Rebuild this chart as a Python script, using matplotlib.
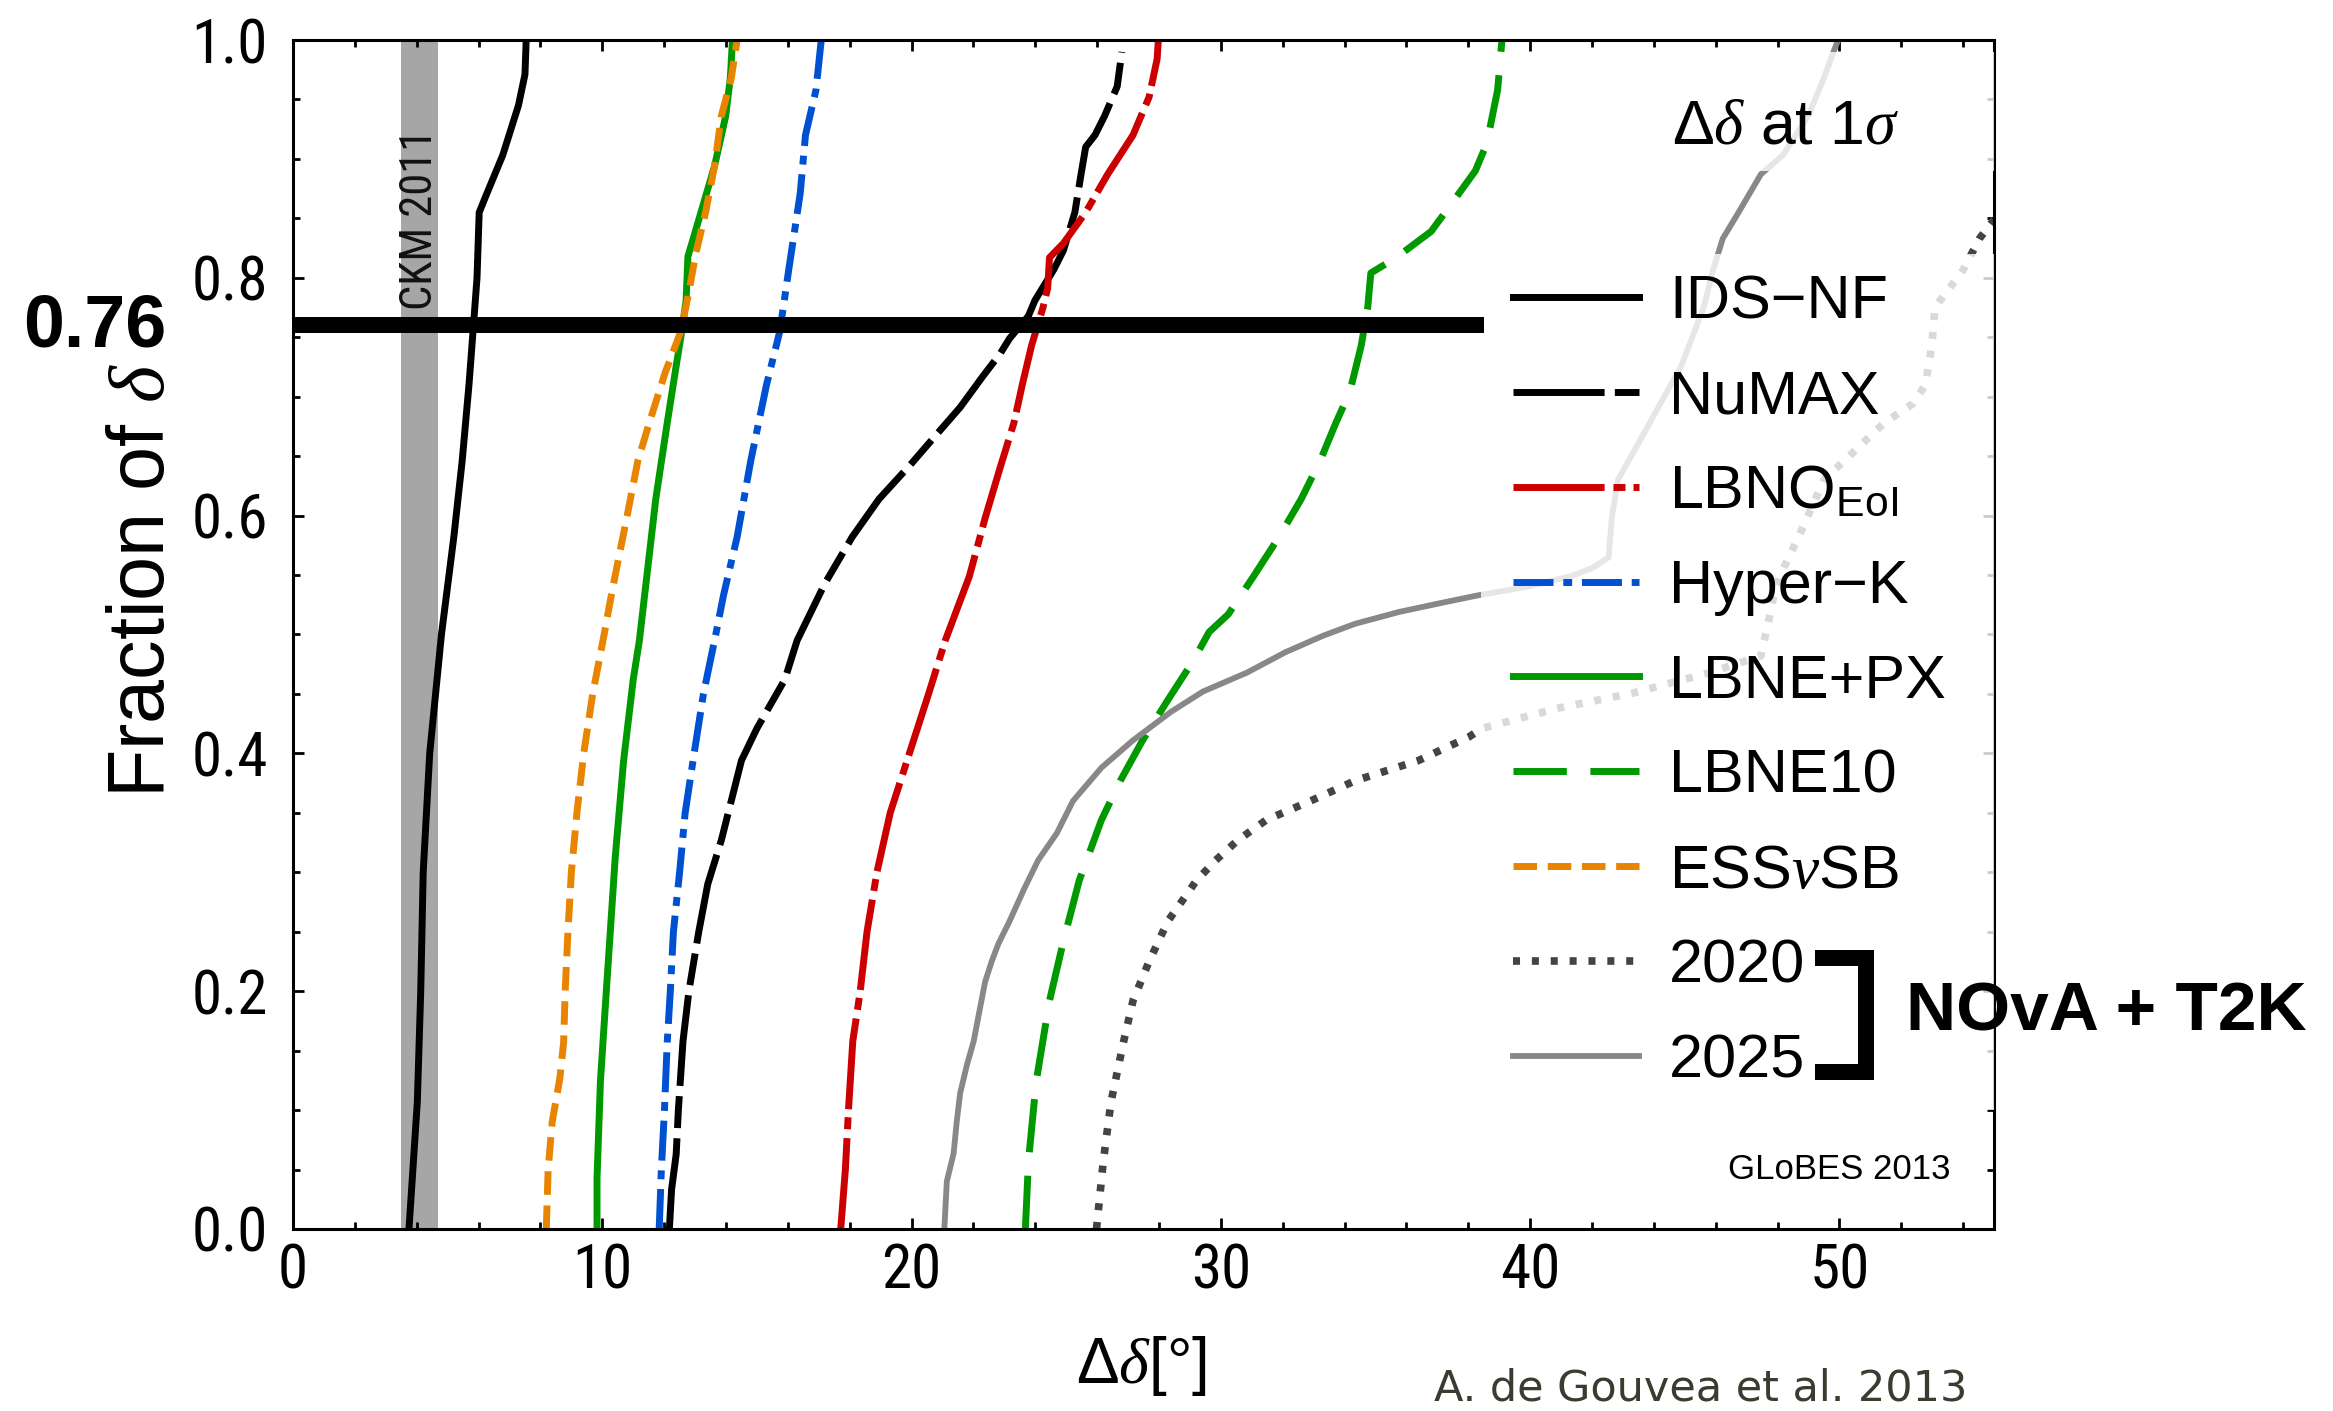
import matplotlib
matplotlib.use("Agg")
import matplotlib.pyplot as plt
from matplotlib import font_manager as fm
from matplotlib.font_manager import FontProperties
from matplotlib.patches import Rectangle
from matplotlib.ticker import MultipleLocator, FormatStrFormatter

# ---------------- data ----------------
ids_x = [3.75, 4.02, 4.13, 4.21, 4.42, 4.80, 5.20, 5.47, 5.69, 5.83, 5.95, 6.02, 6.27, 6.78, 7.29, 7.50, 7.54]
ids_y = [0.0, 0.107, 0.2, 0.3, 0.4, 0.5, 0.582, 0.646, 0.71, 0.758, 0.80, 0.855, 0.871, 0.903, 0.945, 0.971, 1.0]

numax_x = [12.17, 12.24, 12.39, 12.46, 12.61, 12.80, 13.12, 13.41, 13.85, 14.50, 15.00, 15.90, 16.30, 17.20,
           18.08, 18.95, 19.97, 20.70, 21.57, 22.30, 22.86, 23.17, 23.78, 23.99, 24.60, 24.91, 25.28, 25.48,
           25.63, 25.93, 26.24, 26.65, 26.80]
numax_y = [0.0, 0.033, 0.063, 0.1, 0.158, 0.2, 0.25, 0.29, 0.327, 0.394, 0.421, 0.462, 0.495, 0.543,
           0.582, 0.614, 0.643, 0.665, 0.691, 0.717, 0.736, 0.749, 0.768, 0.781, 0.807, 0.823, 0.855, 0.887,
           0.91, 0.92, 0.936, 0.961, 0.99]

lbno_x = [17.71, 17.86, 17.96, 18.10, 18.34, 18.56, 18.88, 19.31, 19.93, 20.55, 21.09, 21.87, 22.38, 22.86,
          23.31, 23.58, 23.88, 24.25, 24.40, 24.46, 24.91, 25.63, 26.34, 27.16, 27.68, 27.94, 27.98]
lbno_y = [0.0, 0.05, 0.1, 0.158, 0.2, 0.25, 0.3, 0.35, 0.4, 0.45, 0.495, 0.549, 0.598, 0.64,
          0.678, 0.71, 0.743, 0.775, 0.791, 0.817, 0.829, 0.855, 0.887, 0.92, 0.952, 0.984, 1.0]

hk_x = [11.84, 11.91, 12.01, 12.10, 12.20, 12.30, 12.50, 12.68, 12.97, 13.27, 13.67, 13.92, 14.36, 14.80,
        15.31, 15.74, 16.03, 16.40, 16.57, 16.91, 17.08]
hk_y = [0.0, 0.05, 0.1, 0.157, 0.2, 0.25, 0.3, 0.35, 0.4, 0.45, 0.5, 0.533, 0.582, 0.646,
        0.71, 0.755, 0.807, 0.871, 0.92, 0.958, 1.0]

lbnepx_x = [9.83, 9.83, 9.94, 10.10, 10.42, 10.69, 11.00, 11.20, 11.44, 11.73, 12.10, 12.39, 12.57, 12.71,
            12.77, 13.19, 13.63, 13.99, 14.14, 14.21]
lbnepx_y = [0.0, 0.043, 0.124, 0.188, 0.313, 0.394, 0.462, 0.495, 0.549, 0.614, 0.678, 0.726, 0.755, 0.781,
            0.818, 0.855, 0.894, 0.936, 0.968, 1.0]

lbne10_x = [23.68, 23.78, 24.03, 24.46, 24.91, 25.42, 26.14, 26.75, 27.47, 28.29, 29.11, 29.62, 30.24, 31.06,
            31.88, 32.60, 33.21, 33.72, 34.17, 34.54, 34.75, 34.85, 35.67, 36.80, 37.45, 38.23, 38.60, 38.95, 39.09]
lbne10_y = [0.0, 0.057, 0.124, 0.192, 0.242, 0.293, 0.344, 0.377, 0.411, 0.445, 0.478, 0.502, 0.517, 0.549,
            0.582, 0.614, 0.646, 0.678, 0.704, 0.743, 0.775, 0.804, 0.817, 0.839, 0.862, 0.89, 0.913, 0.958, 1.0]

ess_x = [8.19, 8.25, 8.38, 8.63, 8.75, 8.80, 8.89, 9.00, 9.18, 9.40, 9.69, 10.06, 10.32, 10.79, 11.15, 11.52,
         12.03, 12.54, 12.80, 13.02, 13.34, 13.63, 13.85, 14.17, 14.36]
ess_y = [0.0, 0.05, 0.09, 0.127, 0.157, 0.2, 0.25, 0.3, 0.35, 0.4, 0.45, 0.5, 0.537, 0.598, 0.646, 0.678,
         0.72, 0.755, 0.788, 0.82, 0.855, 0.894, 0.936, 0.968, 1.0]

nova2020_x = [25.98, 26.20, 26.45, 26.86, 27.16, 27.68, 28.29, 29.21, 29.83, 30.55, 31.47, 32.90, 34.34, 36.39,
              38.03, 38.44, 40.90, 43.36, 45.82, 47.46, 47.70, 47.86, 48.07, 48.68, 49.50, 51.45, 52.37, 52.78,
              52.99, 53.09, 54.01, 54.53, 55.00]
nova2020_y = [0.0, 0.057, 0.107, 0.158, 0.192, 0.225, 0.259, 0.293, 0.31, 0.327, 0.344, 0.36, 0.377, 0.394,
              0.414, 0.421, 0.438, 0.451, 0.468, 0.482, 0.51, 0.53, 0.549, 0.582, 0.63, 0.678, 0.694, 0.71,
              0.743, 0.775, 0.807, 0.833, 0.849]

nova2025_x = [21.06, 21.14, 21.36, 21.46, 21.57, 21.79, 22.01, 22.23, 22.38, 22.59, 22.81, 23.17, 23.64, 24.09,
              24.70, 25.22, 26.14, 27.16, 28.39, 29.42, 30.85, 32.08, 33.31, 34.34, 35.77, 37.21, 38.33, 39.87,
              41.31, 42.02, 42.54, 42.64, 42.84, 43.87, 44.89, 45.61, 45.92, 46.23, 46.74, 47.46, 48.17, 48.99,
              49.50, 49.81, 49.96]
nova2025_y = [0.0, 0.04, 0.0635, 0.09, 0.114, 0.138, 0.158, 0.188, 0.208, 0.225, 0.24, 0.259, 0.286, 0.31,
              0.333, 0.36, 0.388, 0.411, 0.435, 0.452, 0.468, 0.485, 0.499, 0.509, 0.519, 0.527, 0.533, 0.54,
              0.549, 0.556, 0.565, 0.598, 0.63, 0.678, 0.726, 0.775, 0.807, 0.833, 0.855, 0.887, 0.903, 0.936,
              0.968, 0.99, 1.0]

ckm_band = [3.5, 4.7]
frac_mark = 0.76
frac_bar_end = 38.5

x_ticks = [0, 10, 20, 30, 40, 50]
y_ticks = [0.0, 0.2, 0.4, 0.6, 0.8, 1.0]

# ---------------- fonts ----------------
plt.rcParams["font.family"] = ["Liberation Sans", "DejaVu Sans"]
plt.rcParams["mathtext.fontset"] = "custom"
plt.rcParams["mathtext.rm"] = "Liberation Serif"
plt.rcParams["mathtext.it"] = "Liberation Serif:italic"
plt.rcParams["mathtext.sf"] = "Liberation Sans"
plt.rcParams["mathtext.bf"] = "Liberation Serif:bold"


def find_narrow():
    prefs = ["Liberation Sans Narrow", "Roboto Condensed", "Open Sans Condensed", "Noto Sans Condensed",
             "Roboto", "Open Sans", "Noto Sans", "DejaVu Sans"]
    cands = []
    for f in fm.fontManager.ttflist:
        if f.style != "normal":
            continue
        w = f.weight if isinstance(f.weight, int) else (400 if f.weight in ("normal", "regular", "book") else 0)
        if w != 400:
            continue
        st = str(f.stretch)
        if "Narrow" in f.name or "Condensed" in f.name or st in ("condensed", "semi-condensed", "75", "87"):
            if "Semi" in f.name or "Extra" in f.name:
                continue
            rank = prefs.index(f.name) if f.name in prefs else len(prefs)
            cands.append((rank, f.fname))
    if cands:
        cands.sort()
        return cands[0][1]
    return None


narrow_file = find_narrow()


def tick_fp(size):
    if narrow_file:
        return FontProperties(fname=narrow_file, size=size)
    return FontProperties(family="Liberation Sans", size=size * 0.9)


fig = plt.figure(figsize=(23.33, 14.11), dpi=100)
ax = fig.add_axes([0.12559, 0.12899, 0.72911, 0.84266])

LW = 5.0
k = 3.2 / LW  # keep absolute dash lengths
ax.axvspan(ckm_band[0], ckm_band[1], color="#a6a6a6", lw=0, zorder=1)

ax.plot(ids_x, ids_y, color="black", lw=LW, ls="-", label="IDS\u2212NF", zorder=2)
ax.plot(numax_x, numax_y, color="black", lw=LW, ls=(0, (20.5 * k, 2.3 * k, 7.2 * k, 2.3 * k)),
        label="NuMAX", zorder=2)
ax.plot(lbno_x, lbno_y, color="#cc0000", lw=LW, ls=(0, (20.5 * k, 2.0 * k, 2.7 * k, 1.8 * k)),
        label=r"LBNO$_{\mathsf{EoI}}$", zorder=2)
ax.plot(hk_x, hk_y, color="#0050d2", lw=LW, ls=(0, (9.0 * k, 2.2 * k, 2.0 * k, 2.2 * k)),
        label="Hyper\u2212K", zorder=2)
ax.plot(lbnepx_x, lbnepx_y, color="#009900", lw=LW, ls="-", label="LBNE+PX", zorder=2)
ax.plot(lbne10_x, lbne10_y, color="#009900", lw=LW, ls=(0, (12.0 * k, 5.3 * k)), label="LBNE10", zorder=2)
ax.plot(ess_x, ess_y, color="#e88400", lw=LW, ls=(0, (5.3 * k, 2.4 * k)), label=r"ESS$\nu$SB", zorder=2)
ax.plot(nova2020_x, nova2020_y, color="#444444", lw=5.5, ls=(0, (0.92, 1.55)), label="2020", zorder=2)
ax.plot(nova2025_x, nova2025_y, color="#888888", lw=4.2, ls="-", label="2025", zorder=2)

# translucent white panels behind legend/title
ax.add_patch(Rectangle((38.4, 0.10), 16.6, 0.72, facecolor="white", edgecolor="none", alpha=0.8, zorder=3))
ax.add_patch(Rectangle((43.5, 0.89), 11.5, 0.10, facecolor="white", edgecolor="none", alpha=0.8, zorder=3))

# 0.76 bar
ax.hlines(frac_mark, 0, frac_bar_end, color="black", lw=11.5, zorder=4, capstyle="butt")

ax.set_xlim(0, 55)
ax.set_ylim(0, 1)
ax.set_xticks(x_ticks)
ax.set_yticks(y_ticks)
ax.xaxis.set_minor_locator(MultipleLocator(2))
ax.yaxis.set_minor_locator(MultipleLocator(0.05))
ax.yaxis.set_major_formatter(FormatStrFormatter("%.1f"))
ax.tick_params(which="both", direction="in", top=True, right=True, width=2.0, color="black")
ax.tick_params(which="major", length=8)
ax.tick_params(which="minor", length=5)
ax.tick_params(axis="y", which="major", pad=18)
ax.tick_params(axis="x", which="major", pad=10)
for lab in ax.get_xticklabels() + ax.get_yticklabels():
    lab.set_fontproperties(tick_fp(44))
for s in ax.spines.values():
    s.set_linewidth(2.2)

ax.set_ylabel(r"Fraction of $\delta$", fontsize=57)
ax.yaxis.set_label_coords(-0.066, 0.546)
ax.set_xlabel("\u0394" + r"$\delta$[°]", fontsize=46)
ax.xaxis.set_label_coords(0.4985, -0.088)

leg = ax.legend(loc="upper left", bbox_to_anchor=(0.7175, 0.803), frameon=False, fontsize=44,
                handlelength=2.05, handletextpad=0.5, labelspacing=0.62, borderpad=0, borderaxespad=0)
leg.set_zorder(6)

ax.text(44.6, 0.927, "\u0394" + r"$\delta$ at 1$\sigma$", fontsize=45, va="center", ha="left", zorder=6)
ckm = ax.text(4.1, 0.849, "CKM 2011", rotation=90, color="#111111", ha="center", va="center", zorder=5)
ckm.set_fontproperties(tick_fp(32))
ax.text(46.4, 0.0497, "GLoBES 2013", fontsize=25, ha="left", va="center", zorder=6)

# NOvA + T2K bracket
ax.plot([49.2, 50.86, 50.86, 49.2], [0.2277, 0.2277, 0.1323, 0.1323], color="black", lw=11.5,
        solid_joinstyle="miter", solid_capstyle="butt", clip_on=False, zorder=6)
ax.text(52.17, 0.182, "NOvA + T2K", fontsize=50, fontweight="bold", ha="left", va="center",
        clip_on=False, zorder=6)

fig.text(0.0405, 1 - 327 / 1411, "0.76", fontsize=53, fontweight="bold", ha="center", va="center")
fig.text(0.8435, 0.016, "A. de Gouvea et al. 2013", fontsize=31, color="#3b3b2f", ha="right", va="center",
         family=["DejaVu Sans"])

fig.savefig("out.png", dpi=100)
